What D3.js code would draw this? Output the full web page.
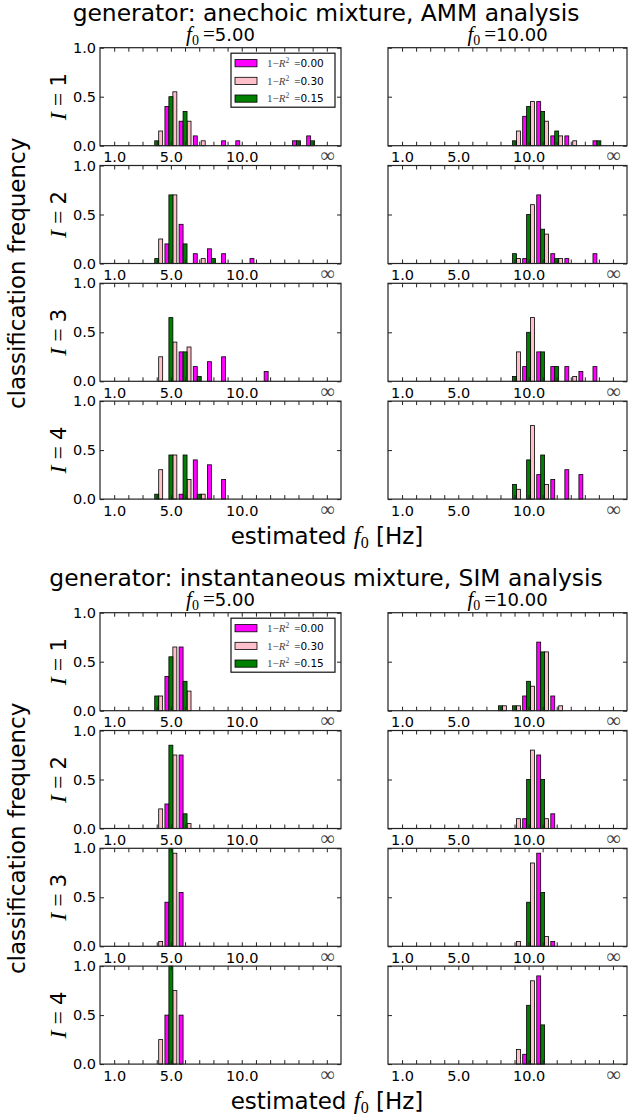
<!DOCTYPE html>
<html>
<head>
<meta charset="utf-8">
<script src="https://cdn.jsdelivr.net/npm/d3@7"></script>
<style>
  body { margin: 0; background: #fff; }
</style>
</head>
<body>
<div class="chart"></div>
<script>
// bins along x, 16 stands for the "infinity" bin
const bins = [1, 2, 3, 4, 5, 6, 7, 8, 9, 10, 11, 12, 13, 14, 15, 16];
const xLabelBins = [1, 5, 10, 16];
const xLabelText = ['1.0', '5.0', '10.0', '\u221e'];
const yTicks = [0, 0.5, 1];
const rowNames = ['1', '2', '3', '4'];
const f0Labels = ['5.00', '10.00'];
const seriesLabels = ['0.00', '0.30', '0.15']; // 1 - R^2
const seriesColors = ['magenta', 'pink', 'green'];
const barSlot = [-1, 1, 0]; // where each series sits inside a bin group

// anechoic mixture, AMM analysis (rows I=1..4, values for bins 1..16)
const ammF5Magenta = [
  [0,0,0,0,.40,.25,.10,0,.05,.05,0,0,0,.05,.10,0],
  [0,0,0,0,.20,.40,.10,.15,.10,0,.05,0,0,0,0,0],
  [0,0,0,0,0,.30,.15,.20,.25,0,0,.10,0,0,0,0],
  [0,0,0,0,0,.05,.40,.35,.20,0,0,0,0,0,0,0]
];
const ammF5Pink = [
  [0,0,0,.15,.55,.25,.05,0,0,0,0,0,0,0,0,0],
  [0,0,0,.25,.70,0,.05,0,0,0,0,0,0,0,0,0],
  [0,0,0,.25,.40,.35,0,0,0,0,0,0,0,0,0,0],
  [0,0,0,.30,.45,.20,.05,0,0,0,0,0,0,0,0,0]
];
const ammF5Green = [
  [0,0,0,.05,.50,.35,0,0,0,0,0,0,0,.05,.05,0],
  [0,0,0,.05,.70,.20,0,.05,0,0,0,0,0,0,0,0],
  [0,0,0,0,.65,.30,.05,0,0,0,0,0,0,0,0,0],
  [0,0,0,.05,.45,.45,.05,0,0,0,0,0,0,0,0,0]
];
const ammF10Magenta = [
  [0,0,0,0,0,0,0,0,0,.30,.45,.10,.10,0,.05,0],
  [0,0,0,0,0,0,0,0,0,.05,.70,.10,.05,0,.10,0],
  [0,0,0,0,0,0,0,0,0,.15,.30,.15,.15,.10,.15,0],
  [0,0,0,0,0,0,0,0,0,0,.25,.20,.30,.25,0,0]
];
const ammF10Pink = [
  [0,0,0,0,0,0,0,0,.15,.45,.25,.10,.05,0,0,0],
  [0,0,0,0,0,0,0,0,.05,.60,.30,.05,0,0,0,0],
  [0,0,0,0,0,0,0,0,.30,.65,0,0,.05,0,0,0],
  [0,0,0,0,0,0,0,0,.10,.75,.15,0,0,0,0,0]
];
const ammF10Green = [
  [0,0,0,0,0,0,0,0,.05,.40,.35,.15,0,0,.05,0],
  [0,0,0,0,0,0,0,0,.10,.50,.35,.05,0,0,0,0],
  [0,0,0,0,0,0,0,0,.05,.50,.30,.15,0,0,0,0],
  [0,0,0,0,0,0,0,0,.15,.40,.45,0,0,0,0,0]
];

// instantaneous mixture, SIM analysis
const simF5Magenta = [
  [0,0,0,0,.35,.65,0,0,0,0,0,0,0,0,0,0],
  [0,0,0,0,.25,.75,0,0,0,0,0,0,0,0,0,0],
  [0,0,0,0,.45,.55,0,0,0,0,0,0,0,0,0,0],
  [0,0,0,0,.50,.50,0,0,0,0,0,0,0,0,0,0]
];
const simF5Pink = [
  [0,0,0,.15,.65,.20,0,0,0,0,0,0,0,0,0,0],
  [0,0,0,.20,.75,.05,0,0,0,0,0,0,0,0,0,0],
  [0,0,0,.05,.95,0,0,0,0,0,0,0,0,0,0,0],
  [0,0,0,.25,.75,0,0,0,0,0,0,0,0,0,0,0]
];
const simF5Green = [
  [0,0,0,.15,.55,.30,0,0,0,0,0,0,0,0,0,0],
  [0,0,0,0,.85,.15,0,0,0,0,0,0,0,0,0,0],
  [0,0,0,0,1.0,0,0,0,0,0,0,0,0,0,0,0],
  [0,0,0,0,1.0,0,0,0,0,0,0,0,0,0,0,0]
];
const simF10Magenta = [
  [0,0,0,0,0,0,0,0,0,.15,.70,.15,0,0,0,0],
  [0,0,0,0,0,0,0,0,0,.10,.75,.15,0,0,0,0],
  [0,0,0,0,0,0,0,0,0,0,.95,.05,0,0,0,0],
  [0,0,0,0,0,0,0,0,0,.10,.90,0,0,0,0,0]
];
const simF10Pink = [
  [0,0,0,0,0,0,0,.05,.05,.25,.60,.05,0,0,0,0],
  [0,0,0,0,0,0,0,0,.10,.80,.10,0,0,0,0,0],
  [0,0,0,0,0,0,0,0,.05,.85,.10,0,0,0,0,0],
  [0,0,0,0,0,0,0,0,.15,.85,0,0,0,0,0,0]
];
const simF10Green = [
  [0,0,0,0,0,0,0,.05,.05,.30,.60,0,0,0,0,0],
  [0,0,0,0,0,0,0,0,0,.50,.50,0,0,0,0,0],
  [0,0,0,0,0,0,0,0,0,.45,.55,0,0,0,0,0],
  [0,0,0,0,0,0,0,0,0,.60,.40,0,0,0,0,0]
];

const figures = [
  { y0: 0, title: 'generator: anechoic mixture, AMM analysis',
    cols: [[ammF5Magenta, ammF5Pink, ammF5Green], [ammF10Magenta, ammF10Pink, ammF10Green]] },
  { y0: 565, title: 'generator: instantaneous mixture, SIM analysis',
    cols: [[simF5Magenta, simF5Pink, simF5Green], [simF10Magenta, simF10Pink, simF10Green]] }
];

const width = 630, height = 1117;
const sans = '"DejaVu Sans", sans-serif';
const serif = '"Liberation Serif", "DejaVu Serif", serif';
const colX = [[100, 341], [388, 627]];
const rowTop = 47.7, rowStep = 117.8, panelH = 98;
const barW = 0.28;

const svg = d3.select('.chart').append('svg')
  .attr('width', width)
  .attr('height', height)
  .style('font-family', sans);

figures.forEach(fig => drawFigure(fig));

function drawFigure(fig) {
  const g = svg.append('g').attr('transform', `translate(0,${fig.y0})`);

  g.append('text')
    .attr('x', 326).attr('y', 20.5)
    .attr('text-anchor', 'middle')
    .attr('font-size', 23.4)
    .text(fig.title);

  // big y label
  g.append('text')
    .attr('transform', `translate(25,${rowTop + (3 * rowStep + panelH) / 2}) rotate(-90)`)
    .attr('text-anchor', 'middle')
    .attr('font-size', 23)
    .text('classification frequency');

  // x label
  const xl = g.append('text')
    .attr('x', 327).attr('y', 544)
    .attr('text-anchor', 'middle')
    .attr('font-size', 23);
  xl.append('tspan').text('estimated ');
  xl.append('tspan').attr('font-family', serif).attr('font-style', 'italic').attr('font-size', 25).text('f');
  xl.append('tspan').attr('font-family', serif).attr('font-size', 16).attr('dy', 4).text('0');
  xl.append('tspan').attr('dy', -4).text(' [Hz]');

  fig.cols.forEach((colData, c) => {
    const [x0, x1] = colX[c];

    // column heading f0 = ...
    const st = g.append('text')
      .attr('x', (x0 + x1) / 2).attr('y', 41)
      .attr('text-anchor', 'middle')
      .attr('font-size', 18);
    st.append('tspan').attr('font-family', serif).attr('font-style', 'italic').attr('font-size', 21).text('f');
    st.append('tspan').attr('font-family', serif).attr('font-size', 14).attr('dy', 4).text('0');
    st.append('tspan').attr('font-family', serif).attr('font-size', 21).attr('dy', -4).attr('dx', 4).text('=');
    st.append('tspan').text(f0Labels[c]);

    rowNames.forEach((rn, r) => {
      const top = rowTop + r * rowStep;
      drawPanel(g, x0, x1, top, colData.map(s => s[r]), c === 0);

      if (c === 0) {
        const rl = g.append('text')
          .attr('transform', `translate(66,${top + panelH / 2}) rotate(-90)`)
          .attr('text-anchor', 'middle')
          .attr('font-size', 21);
        rl.append('tspan').attr('font-family', serif).attr('font-style', 'italic').attr('font-size', 24).text('I');
        rl.append('tspan').attr('font-family', serif).attr('font-size', 24).text(' = ');
        rl.append('tspan').text(rn);
      }
    });
  });

  drawLegend(g, colX[0][1], rowTop);
}

function drawPanel(g, x0, x1, top, series, showY) {
  const x = d3.scaleLinear().domain([0, 17]).range([x0, x1]);
  const y = d3.scaleLinear().domain([0, 1]).range([top + panelH, top]);

  const p = g.append('g');

  series.forEach((vals, s) => {
    const pts = bins.map((b, i) => ({ b, v: vals[i] })).filter(d => d.v > 0);
    p.selectAll(null)
      .data(pts)
      .join('rect')
      .attr('x', d => x(d.b + (barSlot[s] - 0.5) * barW))
      .attr('width', x(barW) - x(0))
      .attr('y', d => y(d.v))
      .attr('height', d => y(0) - y(d.v))
      .attr('fill', seriesColors[s])
      .attr('stroke', '#000')
      .attr('stroke-width', 0.8);
  });

  const lab = b => {
    const i = xLabelBins.indexOf(b);
    return i < 0 ? '' : xLabelText[i];
  };

  const ax = p.append('g')
    .attr('transform', `translate(0,${top + panelH})`)
    .call(d3.axisBottom(x).tickValues(bins).tickSize(-4).tickSizeOuter(0).tickPadding(6.5).tickFormat(lab));
  ax.selectAll('text')
    .attr('font-size', 14.5)
    .attr('font-family', sans)
    .attr('fill', '#000')
    .filter(d => d === 16)
    .attr('font-family', serif)
    .attr('font-size', 20)
    .attr('dy', '0.5em')
    .attr('fill', '#444');

  p.append('g')
    .attr('transform', `translate(0,${top})`)
    .call(d3.axisTop(x).tickValues(bins).tickSize(-4).tickSizeOuter(0).tickFormat(''));

  const ay = p.append('g')
    .attr('transform', `translate(${x0},0)`)
    .call(d3.axisLeft(y).tickValues(yTicks).tickSize(-4).tickSizeOuter(0).tickPadding(4)
      .tickFormat(showY ? d3.format('.1f') : ''));
  ay.selectAll('text').attr('font-size', 14.5).attr('font-family', sans).attr('fill', '#000');

  p.append('g')
    .attr('transform', `translate(${x1},0)`)
    .call(d3.axisRight(y).tickValues(yTicks).tickSize(-4).tickSizeOuter(0).tickFormat(''));

  p.selectAll('.domain').remove();
  p.selectAll('.tick line').attr('stroke', '#222');

  p.append('rect')
    .attr('x', x0).attr('y', top)
    .attr('width', x1 - x0).attr('height', panelH)
    .attr('fill', 'none')
    .attr('stroke', '#222')
    .attr('stroke-width', 1.2);
}

function drawLegend(g, right, top) {
  const lg = g.append('g');
  const bx = 231, by = top + 5.5, bw = right - 6 - bx, bh = 54;
  lg.append('rect')
    .attr('x', bx).attr('y', by).attr('width', bw).attr('height', bh)
    .attr('fill', '#fff').attr('stroke', '#111').attr('stroke-width', 1.2);

  seriesLabels.forEach((lbl, i) => {
    const cy = by + 10 + i * 17.7;
    lg.append('rect')
      .attr('x', bx + 4).attr('y', cy - 3.6)
      .attr('width', 22).attr('height', 7.2)
      .attr('fill', seriesColors[i])
      .attr('stroke', '#000').attr('stroke-width', 0.8);
    const t = lg.append('text')
      .attr('x', bx + 36).attr('y', cy + 3.6)
      .attr('font-size', 10.5);
    t.append('tspan').attr('font-family', serif).attr('font-size', 11).attr('fill', '#444').text('1\u2212');
    t.append('tspan').attr('font-family', serif).attr('font-style', 'italic').attr('font-size', 11).attr('fill', '#444').text('R');
    t.append('tspan').attr('font-family', serif).attr('font-size', 7.5).attr('dy', -4).attr('fill', '#444').text('2');
    t.append('tspan').attr('font-family', serif).attr('font-size', 11).attr('dy', 4).attr('dx', 5).text('=');
    t.append('tspan').text(lbl);
  });
}
</script>
</body>
</html>
